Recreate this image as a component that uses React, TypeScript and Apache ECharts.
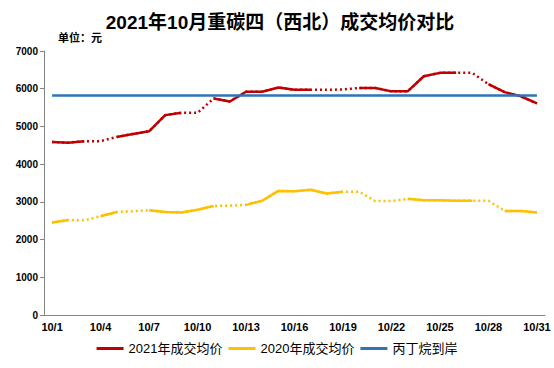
import React, { useEffect, useRef } from "react";
import * as echarts from "echarts";

const days: string[] = [
  "10/1","10/2","10/3","10/4","10/5","10/6","10/7","10/8","10/9","10/10",
  "10/11","10/12","10/13","10/14","10/15","10/16","10/17","10/18","10/19","10/20",
  "10/21","10/22","10/23","10/24","10/25","10/26","10/27","10/28","10/29","10/30","10/31",
];

const price2021: number[] = [
  4590, 4570, 4610, 4610, 4720, 4800, 4870, 5300, 5360, 5360,
  5740, 5660, 5920, 5920, 6030, 5970, 5970, 5970, 5980, 6020,
  6020, 5930, 5930, 6330, 6420, 6420, 6420, 6120, 5910, 5800, 5610,
];
// days (1-based) with no own quote: drawn as dotted bridge
const gaps2021: number[] = [4, 10, 18, 19, 27];

const price2020: number[] = [
  2450, 2520, 2510, 2620, 2730, 2750, 2780, 2730, 2720, 2790,
  2890, 2900, 2920, 3030, 3290, 3280, 3320, 3220, 3270, 3270,
  3020, 3020, 3080, 3040, 3040, 3030, 3030, 3030, 2760, 2760, 2720,
];
const gaps2020: number[] = [3, 6, 12, 20, 21, 22, 28];

const propaneArrival: number = 5820;

const yTicks = { min: 0, max: 7000, interval: 1000 };

const RED = "#c00000";
const YELLOW = "#ffc000";
const BLUE = "#2e75b6";

function solidOf(values: number[], gaps: number[]): (number | null)[] {
  return values.map((v, i) => (gaps.includes(i + 1) ? null : v));
}

export default function App() {
  const ref = useRef<HTMLDivElement>(null);
  useEffect(() => {
    document.body.style.margin = "0";
    if (!ref.current) return;
    const chart = echarts.init(ref.current, null, { renderer: "svg" });
    const font = "'Liberation Sans', 'Noto Sans CJK SC', sans-serif";
    const lineBase = { type: "line", showSymbol: false, symbol: "none", silent: true };
    chart.setOption({
      animation: false,
      textStyle: { fontFamily: font },
      graphic: [
        {
          type: "text",
          x: 280,
          y: 22,
          style: {
            text: "2021年10月重碳四（西北）成交均价对比",
            font: `bold 19px ${font}`,
            fill: "#000",
            textAlign: "center",
            textVerticalAlign: "middle",
          },
        },
        {
          type: "text",
          x: 58,
          y: 38,
          style: {
            text: "单位：元",
            font: `bold 11px ${font}`,
            fill: "#000",
            textAlign: "left",
            textVerticalAlign: "middle",
          },
        },
      ],
      legend: {
        bottom: 8,
        left: "center",
        itemWidth: 27,
        itemHeight: 3,
        itemGap: 6,
        icon: "rect",
        textStyle: { fontSize: 13, color: "#000", fontFamily: font },
        data: ["2021年成交均价", "2020年成交均价", "丙丁烷到岸"],
      },
      grid: { left: 44, right: 9, top: 51, bottom: 53 },
      xAxis: {
        type: "category",
        data: days,
        boundaryGap: true,
        axisLine: { lineStyle: { color: "#868686", width: 1 } },
        axisTick: { interval: 2, length: 4, lineStyle: { color: "#868686" } },
        axisLabel: {
          interval: 2,
          color: "#000",
          fontSize: 11,
          fontWeight: "bold",
          margin: 6,
        },
        splitLine: { show: false },
      },
      yAxis: {
        type: "value",
        min: yTicks.min,
        max: yTicks.max,
        interval: yTicks.interval,
        axisLine: { show: true, lineStyle: { color: "#868686", width: 1 } },
        axisTick: { show: true, length: 4, lineStyle: { color: "#868686" } },
        axisLabel: {
          color: "#000",
          fontSize: 10,
          fontWeight: "bold",
          margin: 6,
          formatter: (v: number) => String(v),
        },
        splitLine: { show: false },
      },
      series: [
        {
          ...lineBase,
          name: "2021年成交均价-虚",
          data: price2021,
          lineStyle: { color: RED, width: 2.5, type: [2, 3] },
          itemStyle: { color: RED },
          z: 2,
        },
        {
          ...lineBase,
          name: "2021年成交均价",
          data: solidOf(price2021, gaps2021),
          connectNulls: false,
          lineStyle: { color: RED, width: 2.5 },
          itemStyle: { color: RED },
          z: 3,
        },
        {
          ...lineBase,
          name: "2020年成交均价-虚",
          data: price2020,
          lineStyle: { color: YELLOW, width: 2.5, type: [2, 3] },
          itemStyle: { color: YELLOW },
          z: 2,
        },
        {
          ...lineBase,
          name: "2020年成交均价",
          data: solidOf(price2020, gaps2020),
          connectNulls: false,
          lineStyle: { color: YELLOW, width: 2.5 },
          itemStyle: { color: YELLOW },
          z: 3,
        },
        {
          ...lineBase,
          name: "丙丁烷到岸",
          data: days.map(() => propaneArrival),
          lineStyle: { color: BLUE, width: 2.5 },
          itemStyle: { color: BLUE },
          z: 4,
        },
      ],
    });
    return () => chart.dispose();
  }, []);
  return <div ref={ref} style={{ width: 554, height: 368 }} />;
}
